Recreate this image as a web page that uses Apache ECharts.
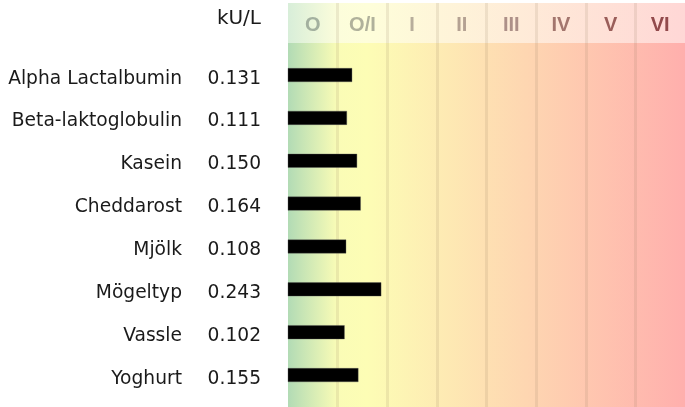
<!DOCTYPE html>
<html>
<head>
<meta charset="utf-8">
<script src="https://cdn.jsdelivr.net/npm/echarts@6/dist/echarts.min.js"></script>
<style>
  html, body { margin: 0; padding: 0; background: #fff; }
  #chart { width: 685px; height: 407px; }
</style>
</head>
<body>
<div id="chart"></div>
<script>
var allergens = ['Alpha Lactalbumin', 'Beta-laktoglobulin', 'Kasein', 'Cheddarost', 'Mjölk', 'Mögeltyp', 'Vassle', 'Yoghurt'];
var values = [0.131, 0.111, 0.150, 0.164, 0.108, 0.243, 0.102, 0.155];
var classes = ['O', 'O/I', 'I', 'II', 'III', 'IV', 'V', 'VI'];
var classColors = ['#a3b09f', '#b0b19b', '#b7ad9b', '#b4a192', '#ad9088', '#a3766e', '#9a5e5a', '#924a4c'];
var unit = 'kU/L';

var xMin = -0.115, xMax = 1.412;

var myChart = echarts.init(document.getElementById('chart'));

function grad(stops) {
    return new echarts.graphic.LinearGradient(0, 0, 1, 0, stops);
}
var sepLine = {
    show: true,
    interval: 0,
    showMinLine: false,
    showMaxLine: false,
    lineStyle: { color: 'rgba(140,120,90,0.14)', width: 3 }
};

var option = {
    animation: false,
    grid: [
        // kolumnrubriker
        { left: 288, right: 0, top: 3, height: 40, show: true, borderWidth: 0,
          backgroundColor: grad([
              { offset: 0, color: '#d8eed9' },
              { offset: 0.125, color: '#fcfddb' },
              { offset: 0.2, color: '#fefeda' },
              { offset: 1, color: '#ffd7d6' }
          ]) },
        // bakgrund
        { left: 288, right: 0, top: 43, bottom: 0, show: true, borderWidth: 0,
          backgroundColor: grad([
              { offset: 0, color: '#b2dbb5' },
              { offset: 0.125, color: '#fafcb6' },
              { offset: 0.2, color: '#fdfdb5' },
              { offset: 1, color: '#ffafad' }
          ]) },
        // staplar
        { left: 288, right: 0, top: 53.6, height: 342.9 },
        // etiketter, lite lägre än staplarna
        { left: 288, right: 0, top: 57.3, height: 342.9 }
    ],
    xAxis: [
        { type: 'category', gridIndex: 0, data: classes, position: 'top',
          axisLine: { show: false }, axisTick: { show: false }, splitLine: sepLine,
          axisLabel: {
              inside: true, margin: 12, fontSize: 20, fontWeight: 'bold',
              fontFamily: 'Liberation Sans',
              color: function (v, i) { return classColors[i]; }
          } },
        { type: 'category', gridIndex: 1, data: classes,
          axisLine: { show: false }, axisTick: { show: false }, axisLabel: { show: false },
          splitLine: sepLine },
        { type: 'value', gridIndex: 2, min: xMin, max: xMax, show: false },
        { type: 'value', gridIndex: 3, show: false }
    ],
    yAxis: [
        { type: 'value', gridIndex: 0, show: false },
        { type: 'value', gridIndex: 1, show: false },
        { type: 'category', gridIndex: 2, data: allergens, inverse: true, show: false },
        { type: 'category', gridIndex: 3, data: allergens, inverse: true,
          axisLine: { show: false }, axisTick: { show: false },
          axisLabel: { margin: 106, fontSize: 18.67, fontFamily: 'DejaVu Sans', color: '#1a1a1a' } },
        { type: 'category', gridIndex: 3, data: values.map(function (v) { return v.toFixed(3); }),
          inverse: true, position: 'left',
          axisLine: { show: false }, axisTick: { show: false },
          axisLabel: { margin: 27, fontSize: 18.67, fontFamily: 'DejaVu Sans', color: '#1a1a1a' } }
    ],
    graphic: [{
        type: 'text', x: 261, y: 19, z: 10,
        style: { text: unit, fontSize: 20, fontFamily: 'DejaVu Sans', fill: '#1a1a1a',
                 align: 'right', verticalAlign: 'middle' }
    }],
    series: [{
        type: 'custom',
        xAxisIndex: 2,
        yAxisIndex: 2,
        data: values.map(function (v, i) { return [v, i]; }),
        renderItem: function (params, api) {
            var start = api.coord([xMin, api.value(1)]);
            var end = api.coord([api.value(0), api.value(1)]);
            var h = 13.5;
            return {
                type: 'rect',
                shape: { x: start[0], y: end[1] - h / 2, width: end[0] - start[0], height: h },
                style: { fill: '#000', stroke: 'rgba(90,90,90,0.6)', lineWidth: 0.6 }
            };
        }
    }]
};

myChart.setOption(option);
</script>
</body>
</html>
